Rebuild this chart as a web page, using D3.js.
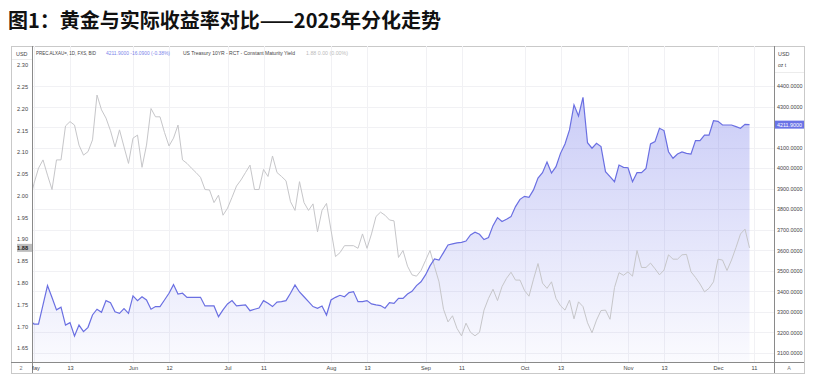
<!DOCTYPE html>
<html><head><meta charset="utf-8">
<script src="https://cdn.jsdelivr.net/npm/d3@7/dist/d3.min.js"></script>
<style>
html,body{margin:0;padding:0;background:#fff;}
svg{display:block;}
</style></head>
<body>
<svg id="chart" width="816" height="377"></svg>
<script>
// ---- DATA (daily, starting 2025-04-30, weekdays) ----
const startDate = "2025-04-30";
const goldValues = [3261,3241,3241,3334,3428,3370,3310,3323,3236,3248,3183,3236,3204,3225,3285,3313,3298,3355,3345,3301,
3293,3316,3293,3378,3355,3374,3358,3313,3326,3326,3358,3391,3433,3387,3391,3371,3371,3371,3371,3329,
3329,3329,3277,3310,3339,3355,3329,3332,3334,3306,3313,3319,3355,3342,3326,3348,3350,3355,3391,3431,
3397,3374,3350,3326,3318,3329,3285,3358,3371,3381,3374,3394,3399,3350,3350,3355,3339,3334,3331,3318,
3345,3342,3366,3366,3387,3400,3428,3447,3480,3524,3558,3553,3589,3626,3631,3636,3639,3645,3675,3688,
3678,3652,3662,3720,3759,3740,3751,3764,3813,3848,3863,3858,3894,3952,3978,4030,3976,4007,4072,4118,
4186,4308,4254,4345,4124,4097,4121,4105,3983,3959,3934,4015,4004,4002,3934,3978,3978,3999,4118,4129,
4194,4183,4080,4048,4069,4079,4072,4069,4134,4134,4161,4161,4231,4228,4210,4210,4210,4202,4194,4213,4211.9];
const yieldValues = [1.984,2.028,2.063,2.082,2.047,2.014,2.082,2.082,2.160,2.170,2.162,2.116,2.093,2.101,2.128,2.231,2.197,2.178,2.149,2.112,
2.151,2.112,2.074,2.132,2.139,2.065,2.116,2.200,2.181,2.181,2.145,2.114,2.132,2.162,2.082,2.074,2.063,2.053,2.042,2.014,
2.013,1.984,2.001,1.955,1.971,1.996,2.022,2.036,2.053,2.070,2.014,2.014,2.060,2.044,2.091,2.053,2.044,2.034,1.986,1.966,
2.032,1.984,1.966,1.981,1.917,1.966,1.982,1.921,1.860,1.869,1.885,1.885,1.885,1.879,1.912,1.879,1.912,1.952,1.962,1.955,
1.944,1.942,1.858,1.874,1.838,1.818,1.815,1.828,1.851,1.874,1.837,1.802,1.739,1.710,1.724,1.695,1.678,1.707,1.686,1.678,
1.686,1.737,1.764,1.785,1.759,1.791,1.810,1.824,1.806,1.806,1.782,1.769,1.808,1.844,1.799,1.787,1.802,1.764,1.747,1.737,
1.760,1.717,1.756,1.745,1.708,1.685,1.714,1.736,1.737,1.716,1.789,1.823,1.817,1.825,1.815,1.874,1.835,1.835,1.845,1.832,
1.818,1.829,1.864,1.854,1.854,1.864,1.865,1.825,1.812,1.797,1.779,1.787,1.802,1.854,1.852,1.828,1.852,1.881,1.912,1.923,1.88];
const xTickDates = ["2025-05-01","2025-05-13","2025-06-02","2025-06-12","2025-07-01","2025-07-11","2025-08-01","2025-08-13","2025-09-01","2025-09-11","2025-10-01","2025-10-13","2025-11-03","2025-11-13","2025-12-01","2025-12-11"];
const xTickLabels = ["May","13","Jun","12","Jul","11","Aug","13","Sep","11","Oct","13","Nov","13","Dec","11"];
const leftTicks = [2.30,2.25,2.20,2.15,2.10,2.05,2.00,1.95,1.90,1.85,1.80,1.75,1.70,1.65];
const rightTicks = [4400,4300,4100,4000,3900,3800,3700,3600,3500,3400,3300,3200,3100];
const gridTicks = [4400,4300,4200,4100,4000,3900,3800,3700,3600,3500,3400,3300,3200,3100];
const titleText = "图1：黄金与实际收益率对比——2025年分化走势";
const legendTexts = ["PREC.ALXAU=, 1D, FXS, BID", "4211.9000  -16.0900 (-0.38%)", "US Treasury 10YR - RCT - Constant Maturity Yield", "1.88  0.00 (0.00%)"];

// trading-day calendar (weekdays)
const fmt = d3.utcFormat("%Y-%m-%d");
const dates = [];
{ let d = new Date(startDate + "T00:00:00Z");
  while (dates.length < goldValues.length + 2) {
    const wd = d.getUTCDay();
    if (wd !== 0 && wd !== 6) dates.push(fmt(d));
    d = new Date(d.getTime() + 86400000);
  } }
const idxOf = s => dates.indexOf(s);
const gold = goldValues.map((v,i)=>({i, v}));
const yld = yieldValues.map((v,i)=>({i, v}));

// ---- LAYOUT ----
const svg = d3.select("#chart");
const frame = {l:11, t:46, r:804, b:373};
const plot = {l:32, t:46, r:774, b:362};
const font = "'Liberation Sans', Arial, sans-serif";

const x = d3.scaleLinear().domain([0, 160]).range([29.5, 29.5 + 160*4.5]);
const yG = d3.scaleLinear().domain([3100, 4400]).range([353, 86]);
const yY = d3.scaleLinear().domain([1.65, 2.30]).range([348, 65]);

// title
svg.append("text").attr("x", 8).attr("y", 28)
  .attr("font-family", "'Noto Sans CJK SC', sans-serif").attr("font-weight", 700)
  .attr("font-size", 20).attr("fill", "#111").text(titleText);

// frame
svg.append("rect").attr("x", frame.l+0.5).attr("y", frame.t+0.5)
  .attr("width", frame.r-frame.l).attr("height", frame.b-frame.t)
  .attr("fill", "#fff").attr("stroke", "#c9c9c9");

const defs = svg.append("defs");
defs.append("clipPath").attr("id","clip").append("rect")
  .attr("x", plot.l).attr("y", plot.t).attr("width", plot.r-plot.l).attr("height", plot.b-plot.t);
const grad = defs.append("linearGradient").attr("id","gfill")
  .attr("gradientUnits","userSpaceOnUse").attr("x1",0).attr("x2",0).attr("y1",yG(4345)).attr("y2",plot.b);
grad.append("stop").attr("offset",0).attr("stop-color","rgb(108,114,232)").attr("stop-opacity",0.36);
grad.append("stop").attr("offset",1).attr("stop-color","rgb(108,114,232)").attr("stop-opacity",0.03);

// grid
const g = svg.append("g");
g.selectAll("line.h").data(gridTicks).join("line")
  .attr("x1", plot.l).attr("x2", plot.r)
  .attr("y1", d=>Math.round(yG(d))+0.5).attr("y2", d=>Math.round(yG(d))+0.5)
  .attr("stroke", "#f1f1f4");
g.selectAll("line.v").data(xTickDates).join("line")
  .attr("x1", d=>Math.round(x(idxOf(d)))+0.5).attr("x2", d=>Math.round(x(idxOf(d)))+0.5)
  .attr("y1", plot.t).attr("y2", plot.b)
  .attr("stroke", "#f1f1f4");

// series
const pg = svg.append("g").attr("clip-path","url(#clip)");
pg.append("path").datum(gold)
  .attr("d", d3.area().x(d=>x(d.i)).y0(plot.b).y1(d=>yG(d.v)))
  .attr("fill","url(#gfill)");
pg.append("path").datum(yld)
  .attr("d", d3.line().x(d=>x(d.i)).y(d=>yY(d.v)))
  .attr("fill","none").attr("stroke","#c6c6c9").attr("stroke-width",1);
pg.append("path").datum(gold)
  .attr("d", d3.line().x(d=>x(d.i)).y(d=>yG(d.v)))
  .attr("fill","none").attr("stroke","#6a6fe2").attr("stroke-width",1.2);

// axis panels borders
svg.append("line").attr("x1",plot.l+0.5).attr("x2",plot.l+0.5).attr("y1",frame.t).attr("y2",frame.b).attr("stroke","#8a8a8a");
svg.append("line").attr("x1",plot.r+0.5).attr("x2",plot.r+0.5).attr("y1",frame.t).attr("y2",frame.b).attr("stroke","#8a8a8a");
svg.append("line").attr("x1",frame.l).attr("x2",frame.r).attr("y1",plot.b+0.5).attr("y2",plot.b+0.5).attr("stroke","#8a8a8a");

// left axis
const la = svg.append("g").attr("transform",`translate(${plot.l},0)`)
  .call(d3.axisLeft(yY).tickValues(leftTicks).tickFormat(d3.format(".2f")).tickSize(0).tickPadding(4));
la.select(".domain").remove();
la.selectAll("text").attr("font-family",font).attr("font-size",5.6).attr("fill","#444");
svg.append("text").attr("x",16).attr("y",56).attr("font-family",font).attr("font-size",5.4).attr("fill","#444").text("USD");
svg.append("line").attr("x1",frame.l+1).attr("x2",plot.l).attr("y1",59.5).attr("y2",59.5).attr("stroke","#ececec");
// left last-value label
const lastY = yieldValues[yieldValues.length-1];
svg.append("rect").attr("x",frame.l+6).attr("y",yY(lastY)-4).attr("width",15).attr("height",8).attr("fill","#bdbdbd");
svg.append("text").attr("x",plot.l-4).attr("y",yY(lastY)+2).attr("text-anchor","end")
  .attr("font-family",font).attr("font-size",5.6).attr("font-weight",700).attr("fill","#222").text(d3.format(".2f")(lastY));

// right axis
const ra = svg.append("g").attr("transform",`translate(${plot.r},0)`)
  .call(d3.axisRight(yG).tickValues(rightTicks).tickFormat(d3.format(".4f")).tickSize(0).tickPadding(3));
ra.select(".domain").remove();
ra.selectAll("text").attr("font-family",font).attr("font-size",5.4).attr("fill","#444");
svg.append("text").attr("x",778).attr("y",56).attr("font-family",font).attr("font-size",5.4).attr("fill","#444").text("USD");
svg.append("text").attr("x",778).attr("y",67).attr("font-family",font).attr("font-size",5).attr("fill","#444").text("oz t");
svg.append("line").attr("x1",plot.r+1).attr("x2",frame.r).attr("y1",72.5).attr("y2",72.5).attr("stroke","#ececec");
const lastG = goldValues[goldValues.length-1];
svg.append("rect").attr("x",plot.r+1).attr("y",yG(lastG)-4).attr("width",29).attr("height",8).attr("fill","#6a73e6");
svg.append("text").attr("x",plot.r+3).attr("y",yG(lastG)+2)
  .attr("font-family",font).attr("font-size",5.4).attr("fill","#fff").text(d3.format(".4f")(lastG));

// bottom axis
const xa = svg.append("g").attr("transform",`translate(0,${plot.b})`)
  .call(d3.axisBottom(x).tickValues(xTickDates.map(idxOf)).tickFormat((d,i)=>xTickLabels[i]).tickSize(0).tickPadding(4));
xa.select(".domain").remove();
xa.selectAll("text").attr("font-family",font).attr("font-size",5.6).attr("fill","#444");
// cover left of plot for clipped label
svg.append("rect").attr("x",frame.l+1).attr("y",plot.b+1).attr("width",plot.l-frame.l-1).attr("height",frame.b-plot.b-1).attr("fill","#fff");
svg.append("text").attr("x",21).attr("y",370).attr("text-anchor","middle").attr("font-family",font).attr("font-size",5.4).attr("fill","#777").text("2");
svg.append("rect").attr("x",plot.r+1).attr("y",plot.b+1).attr("width",frame.r-plot.r-1).attr("height",frame.b-plot.b-1).attr("fill","#fff");
svg.append("text").attr("x",789).attr("y",370).attr("text-anchor","middle").attr("font-family",font).attr("font-size",5.4).attr("fill","#777").text("A");

// legend
const legendX = [36, 106, 183, 306];
const legendW = [60, 64, 112, 42];
const legendColors = ["#444", "#7d86ea", "#444", "#bbb"];
svg.selectAll("text.leg").data(legendTexts).join("text").attr("class","leg")
  .attr("x", (d,i)=>legendX[i]).attr("y", 55)
  .attr("font-family", font).attr("font-size", 5)
  .attr("fill", (d,i)=>legendColors[i])
  .attr("textLength", (d,i)=>legendW[i]).attr("lengthAdjust","spacingAndGlyphs")
  .text(d=>d);
</script>
</body></html>
